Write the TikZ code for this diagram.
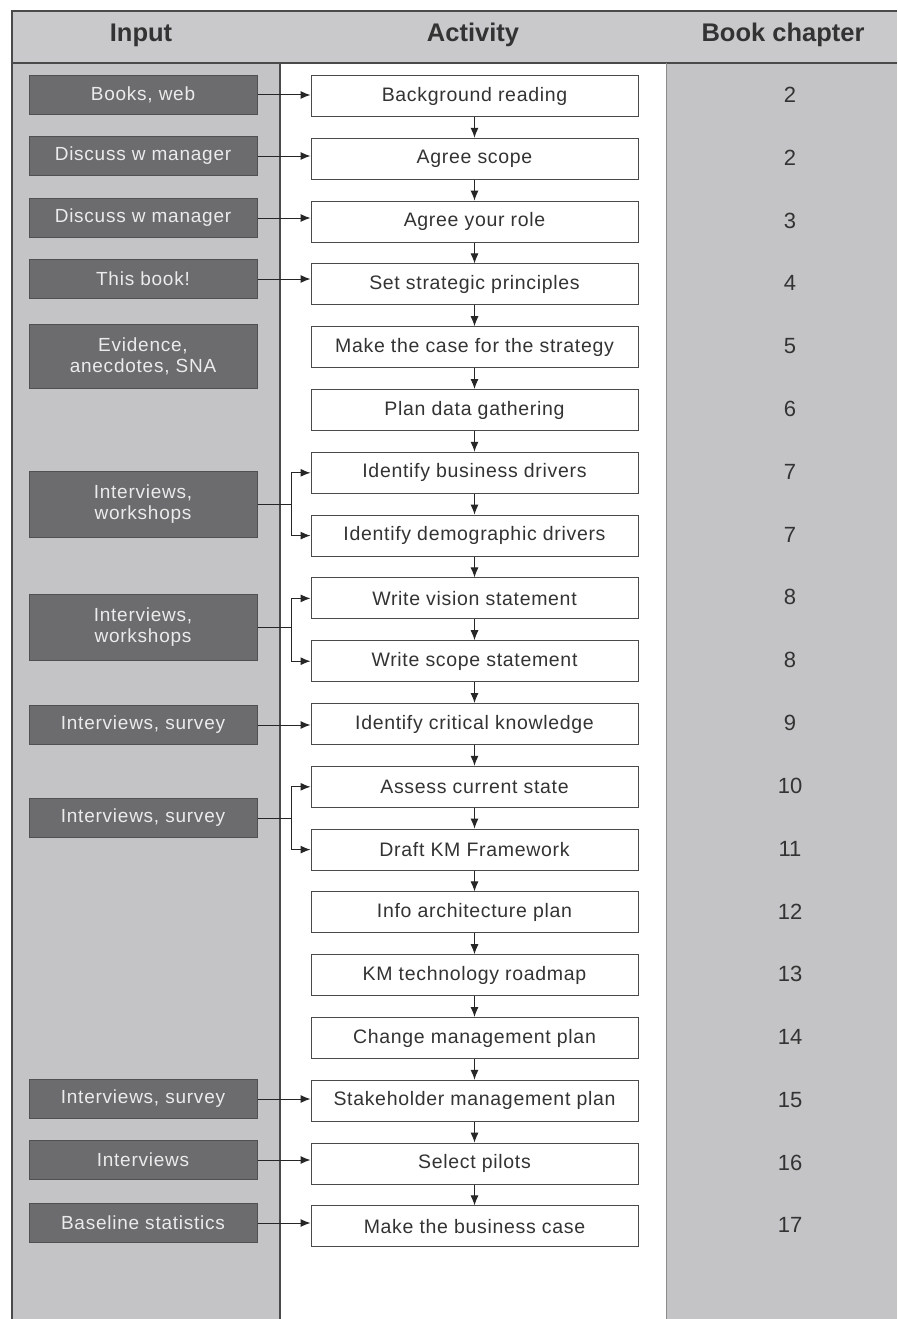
\documentclass[tikz,border=0pt]{standalone}
\usepackage{fontspec}
\setmainfont{Liberation Sans}
\usetikzlibrary{arrows.meta}
\definecolor{hdr}{HTML}{C9C9CB}
\definecolor{col}{HTML}{C4C4C6}
\definecolor{inbox}{HTML}{6C6C6E}
\definecolor{inborder}{HTML}{505052}
\definecolor{txt}{HTML}{333333}
\definecolor{frame}{HTML}{4A4A4A}
\tikzset{
  inputbox/.style={draw=inborder, line width=1pt, fill=inbox, text=white!92!black,
    minimum width=228pt, minimum height=39pt, align=center, inner sep=2pt,
    font=\fontsize{19}{21}\selectfont\addfontfeature{LetterSpace=4}},
  actbox/.style={draw=frame, line width=1pt, fill=white, text=txt,
    minimum width=327pt, minimum height=41pt, inner sep=2pt,
    font=\fontsize{19.5}{22}\selectfont\addfontfeature{LetterSpace=3.5}},
  chap/.style={text=txt, font=\fontsize{22}{24}\selectfont},
  head/.style={text=txt, font=\fontsize{25.5}{28}\selectfont\bfseries},
  arr/.style={draw=black!85, line width=1pt, -{Latex[length=10pt,width=8pt]}},
  ln/.style={draw=black!85, line width=1pt},
}
\begin{document}
\begin{tikzpicture}[x=1pt,y=-1pt]
\useasboundingbox (0,0) rectangle (897,1319);
% backgrounds
\fill[hdr] (12,11) rectangle (897,63);
\fill[col] (12,63) rectangle (280,1319);
\fill[white] (280,63) rectangle (666,1319);
\fill[col] (666,63) rectangle (897,1319);
\draw[frame, line width=1.6pt] (12,1319) -- (12,11) -- (897,11);
\draw[frame, line width=1.3pt] (12,63) -- (897,63);
\draw[frame, line width=1.3pt] (280,63) -- (280,1319);
\draw[black!45, line width=1pt] (666,63) -- (666,1319);
% headers
\node[head] (hin) at (141,35) {Input};
\node[head] (hact) at (473,35) {Activity};
\node[head] (hch) at (783,35) {Book chapter};
% activities
\foreach \i/\t/\c in {1/Background reading/2, 2/Agree scope/2, 3/Agree your role/3,
  4/Set strategic principles/4, 5/Make the case for the strategy/5,
  6/Plan data gathering/6, 7/Identify business drivers/7,
  8/Identify demographic drivers/7, 9/Write vision statement/8,
  10/Write scope statement/8, 11/Identify critical knowledge/9,
  12/Assess current state/10, 13/Draft KM Framework/11,
  14/Info architecture plan/12, 15/KM technology roadmap/13,
  16/Change management plan/14, 17/Stakeholder management plan/15,
  18/Select pilots/16, 19/Make the business case/17} {
  \node[actbox] (a\i) at (474.5, {96+62.8*(\i-1)}) {\t};
  \node[chap] (c\i) at (790, {95+62.8*(\i-1)}) {\c};
}
\foreach \i [evaluate=\i as \j using int(\i+1)] in {1,...,18} {
  \draw[arr] (a\i.south) -- (a\j.north);
}
% inputs
\node[inputbox] (i1) at (143,95) {Books, web};
\node[inputbox] (i2) at (143,156) {Discuss w manager};
\node[inputbox] (i3) at (143,218) {Discuss w manager};
\node[inputbox] (i4) at (143,279) {This book!};
\node[inputbox, minimum height=64pt] (i5) at (143,356) {Evidence,\\anecdotes, SNA};
\node[inputbox, minimum height=66pt] (i6) at (143,504) {Interviews,\\workshops};
\node[inputbox, minimum height=66pt] (i7) at (143,627) {Interviews,\\workshops};
\node[inputbox] (i8) at (143,725) {Interviews, survey};
\node[inputbox] (i9) at (143,818) {Interviews, survey};
\node[inputbox] (i10) at (143,1099) {Interviews, survey};
\node[inputbox] (i11) at (143,1160) {Interviews};
\node[inputbox] (i12) at (143,1223) {Baseline statistics};
% straight connectors
\foreach \s/\d in {i1/a1, i2/a2, i3/a3, i4/a4, i8/a11, i10/a17, i11/a18, i12/a19} {
  \draw[arr] (\s.east) -- (\s.east -| \d.west);
}
% forks
\foreach \s/\da/\db in {i6/a7/a8, i7/a9/a10, i9/a12/a13} {
  \path (\s.east) ++(34,0) coordinate (f\s);
  \draw[ln] (\s.east) -- (f\s);
  \draw[arr] (f\s) |- (\da.west);
  \draw[arr] (f\s) |- (\db.west);
}
\end{tikzpicture}
\end{document}
